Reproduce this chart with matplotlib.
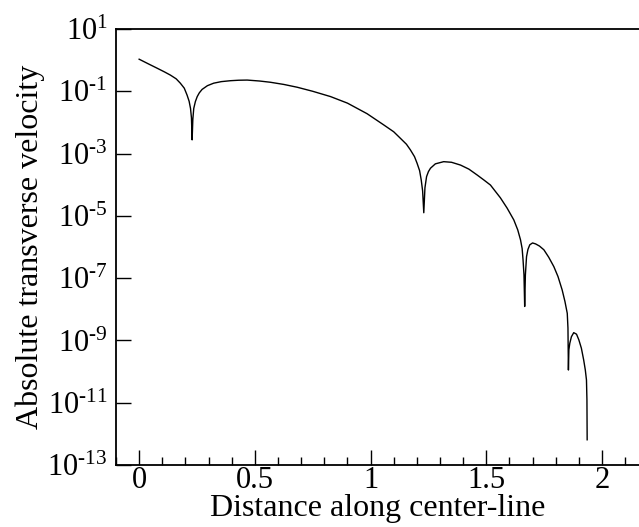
import numpy as np
import matplotlib
matplotlib.use("Agg")
import matplotlib.pyplot as plt
from matplotlib.ticker import FixedLocator, MultipleLocator, FuncFormatter

# distance along the center-line
distance = [0.0, 0.04, 0.078, 0.11, 0.135, 0.16, 0.178, 0.195, 0.207, 0.216,
            0.222, 0.226, 0.229, 0.232, 0.236, 0.243, 0.251, 0.26, 0.272, 0.295,
            0.322, 0.355, 0.395, 0.43, 0.467, 0.52, 0.567, 0.625, 0.683, 0.75,
            0.827, 0.9, 0.985, 1.057, 1.1, 1.129, 1.155, 1.172, 1.19, 1.201,
            1.212, 1.219, 1.225, 1.23, 1.235, 1.242, 1.25, 1.259, 1.28, 1.316,
            1.35, 1.389, 1.425, 1.461, 1.49, 1.518, 1.561, 1.59, 1.619, 1.636,
            1.648, 1.655, 1.659, 1.663, 1.666, 1.669, 1.674, 1.68, 1.688, 1.7,
            1.713, 1.73, 1.749, 1.77, 1.792, 1.81, 1.828, 1.84, 1.85, 1.853,
            1.855, 1.857, 1.861, 1.868, 1.878, 1.89, 1.9, 1.911, 1.921, 1.928,
            1.933, 1.935, 1.936]
# log10 of the absolute transverse velocity
log_velocity = [0.03, -0.12, -0.26, -0.38, -0.48, -0.6, -0.74, -0.9, -1.12, -1.32,
                -1.55, -1.85, -2.56, -1.9, -1.55, -1.33, -1.17, -1.05, -0.94, -0.82,
                -0.74, -0.69, -0.66, -0.645, -0.64, -0.67, -0.71, -0.78, -0.87, -1.0,
                -1.17, -1.38, -1.72, -2.08, -2.3, -2.51, -2.7, -2.88, -3.1, -3.31,
                -3.55, -3.85, -4.2, -4.9, -4.1, -3.74, -3.58, -3.47, -3.33, -3.26,
                -3.28, -3.37, -3.5, -3.69, -3.85, -4.01, -4.42, -4.75, -5.13, -5.45,
                -5.77, -6.05, -6.42, -6.9, -7.91, -6.9, -6.31, -6.08, -5.93, -5.87,
                -5.9, -5.97, -6.09, -6.33, -6.63, -6.95, -7.38, -7.75, -8.13, -8.6,
                -9.95, -9.3, -9.09, -8.88, -8.75, -8.8, -8.98, -9.25, -9.63, -9.95,
                -10.27, -10.9, -12.19]
velocity = 10.0 ** np.array(log_velocity)

ytick_exp = [1, -1, -3, -5, -7, -9, -11, -13]

plt.rcParams['font.family'] = ['Liberation Serif', 'DejaVu Serif']
plt.rcParams['mathtext.fontset'] = 'custom'
plt.rcParams['mathtext.rm'] = 'Liberation Serif'
plt.rcParams['mathtext.it'] = 'Liberation Serif:italic'


def log_label(v, pos):
    e = int(round(np.log10(v)))
    if e < 0:
        return r"$\mathregular{10^{\text{-}%d}}$" % (-e)
    return r"$\mathregular{10^{%d}}$" % e


fig = plt.figure(figsize=(6.39, 5.27), dpi=100)
ax = fig.add_axes([116 / 639, 62 / 527, 523 / 639, 436 / 527])

ax.plot(distance, velocity, color='black', lw=1.0)
ax.set_yscale('log')
ax.set_ylim(1e-13, 1e1)
ax.set_xlim(-0.1, 2.16)

ax.yaxis.set_major_locator(FixedLocator([10.0 ** e for e in ytick_exp]))
ax.yaxis.set_minor_locator(FixedLocator([]))
ax.yaxis.set_major_formatter(FuncFormatter(log_label))
ax.xaxis.set_major_locator(MultipleLocator(0.5))
ax.xaxis.set_minor_locator(MultipleLocator(0.1))
ax.xaxis.set_major_formatter(FuncFormatter(lambda v, p: "%g" % v))

ax.tick_params(which='both', direction='in', width=1.0)
ax.tick_params(axis='y', labelsize=22, pad=6)
ax.tick_params(axis='x', labelsize=22, pad=1)
ax.tick_params(which='major', length=11)
ax.tick_params(which='minor', length=6)

for s in ['left', 'bottom', 'top']:
    ax.spines[s].set_linewidth(1.3)
ax.spines['right'].set_visible(False)
ax.tick_params(right=False, top=False)

ax.set_xlabel("Distance along center-line", fontsize=23, labelpad=-1)
ax.set_ylabel("Absolute transverse velocity", fontsize=23, labelpad=2)

fig.savefig("out.png", dpi=100)
